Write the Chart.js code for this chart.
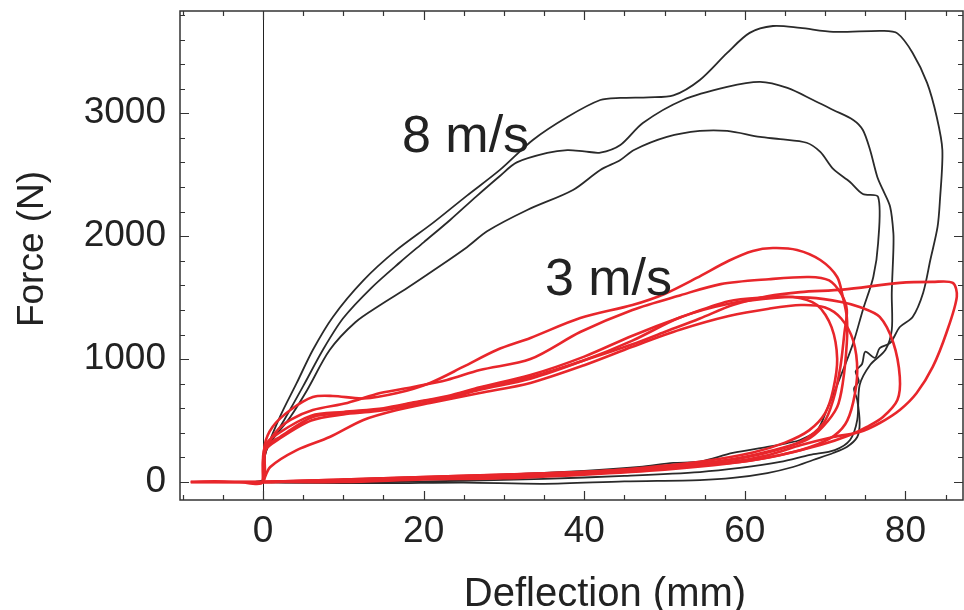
<!DOCTYPE html>
<html>
<head>
<meta charset="utf-8">
<script src="https://cdn.jsdelivr.net/npm/chart.js@4"></script>
<style>
  html, body { margin: 0; padding: 0; background: #fff; }
</style>
</head>
<body>
<canvas id="loops" width="964" height="610"></canvas>
<script>
// deflection (mm), force (N)
const fast1 = [[-1,0],[0,20],[0.3,230],[2.1,529],[4.2,806],[6.2,1074],[8.7,1343],[12.5,1640],[16.5,1880],[21.2,2110],[25.4,2330],[29.5,2539],[33.6,2783],[37.9,2970],[42.0,3108],[44.5,3125],[48.0,3130],[51.1,3145],[54.4,3271],[57.8,3491],[60.6,3654],[63.5,3710],[66.9,3694],[71.0,3662],[77.2,3670],[79.0,3650],[80.9,3491],[82.7,3247],[83.9,2970],[84.6,2701],[84.3,2295],[84.0,2075],[83.1,1806],[82.2,1538],[80.9,1343],[79.3,1261],[78.1,1131],[76.8,1090],[76.2,1010],[75.0,1060],[74.6,960],[73.8,900],[74.2,820],[73.6,760],[74.0,667],[74.3,480],[74.0,366],[72.7,285],[71.0,236],[68.5,179],[66.0,122],[62.8,73],[58.5,33],[54.4,16],[45,5],[35,-15],[25,-5],[15,-10],[5,-5],[0,0]];
const fast2 = [[0,0],[0.3,240],[2.6,500],[5.0,780],[7.5,1080],[10.0,1334],[13.5,1580],[17.1,1790],[20.0,1950],[23.3,2132],[26.5,2320],[29.5,2490],[31.6,2600],[35.4,2677],[37.9,2700],[40.0,2690],[42.0,2680],[44.5,2742],[47.3,2921],[52.3,3108],[57.8,3214],[61.9,3255],[65.3,3206],[68.5,3108],[71.0,3027],[73.5,2946],[74.7,2864],[75.6,2701],[76.5,2482],[77.2,2376],[78.1,2238],[78.5,2026],[78.5,1888],[78.3,1538],[78.3,1237],[77.5,1074],[75.6,952],[74.3,789],[74.0,505],[73.1,342],[71.2,260],[68.1,220],[64.4,163],[59.4,114],[54.4,81],[45,50],[35,25],[25,10],[15,0],[5,-5],[0,0]];
const fast3 = [[0,0],[0.4,260],[3.4,529],[5.5,749],[8.3,1074],[11.5,1300],[14.6,1440],[18.0,1580],[21.2,1720],[25.4,1910],[27.9,2040],[32.9,2213],[38.6,2376],[42.0,2539],[44.5,2620],[46.2,2701],[50.3,2807],[54.4,2856],[57.8,2856],[61.9,2807],[64.4,2790],[67.7,2760],[69.4,2685],[71.0,2547],[73.1,2441],[74.7,2343],[76.6,2319],[76.6,1945],[76.0,1668],[74.7,1400],[73.5,1131],[71.9,855],[70.2,586],[69.0,420],[66.9,342],[65.3,317],[62.8,285],[58.5,236],[54.4,165],[51.1,155],[46.9,122],[40,90],[30,60],[20,40],[10,20],[3,0],[0,0]];

const slow1 = [[-9,0],[-6,5],[-3,0],[0,0],[0.2,300],[1.2,450],[3.4,586],[6.2,692],[8.7,700],[12.5,680],[16.7,724],[20.8,806],[24.9,936],[29.1,1074],[33.3,1172],[39.5,1334],[46,1440],[50,1530],[54,1660],[58,1800],[61,1880],[63.5,1904],[66.5,1888],[69.4,1806],[71.5,1668],[72.2,1506],[72.7,1343],[72.7,1131],[72.2,806],[71.5,610],[69.7,448],[67.7,342],[64,260],[60,200],[55,150],[50,115],[45,90],[40,70],[30,50],[20,30],[10,15],[0,0],[-5,0],[-9,0]];
const slow2 = [[0,0],[0.3,250],[1.5,400],[3.4,505],[6.2,586],[10.5,643],[14.6,724],[18.7,773],[22.9,830],[27.0,911],[33.3,1000],[39.5,1220],[46,1400],[52,1520],[57,1610],[63,1650],[68,1668],[70.5,1640],[72,1530],[72.7,1400],[72.4,1212],[71.9,936],[71.0,667],[69.8,480],[67,330],[63,250],[58,180],[50,120],[40,80],[30,60],[20,40],[10,20],[0,0],[-9,0]];
const slow3 = [[0,0],[0.2,280],[2.1,366],[6.2,529],[10.5,561],[14.6,586],[18.7,643],[22.9,692],[27.0,765],[33.3,854],[40,990],[46,1120],[50,1220],[54.4,1330],[58.5,1440],[62.8,1510],[66.9,1545],[72.2,1565],[79.3,1620],[83.4,1628],[85.9,1620],[86.4,1506],[85.1,1212],[83.4,936],[81.4,724],[79.3,586],[76.8,480],[74.3,407],[71.0,366],[67,300],[63,220],[58,160],[50,110],[40,70],[30,40],[20,30],[10,10],[0,0]];
const slow4 = [[0,0],[0.2,250],[2,350],[6,500],[10,550],[14,575],[19,630],[23,680],[27,750],[33.3,840],[40,990],[46,1150],[52,1340],[58,1450],[64,1500],[68,1500],[72,1465],[74.3,1424],[76.8,1343],[78.5,1131],[79.3,854],[79.0,667],[77.2,529],[75.2,448],[73.1,382],[69.4,300],[64.4,220],[59.4,163],[54.4,138],[45,100],[35,70],[25,50],[15,30],[5,10],[0,0]];
const slow5 = [[0,0],[0.9,122],[4.2,260],[8.3,366],[12.5,505],[16.7,586],[20.8,643],[27.0,724],[33.3,806],[40,950],[46,1100],[52,1240],[58,1350],[63,1410],[67,1440],[70,1420],[72,1330],[73.5,1150],[74,900],[73.5,650],[72.5,470],[70.5,350],[67,260],[63,200],[58,150],[50,100],[40,60],[30,30],[20,20],[10,0],[0,0],[-9,0]];
const slow6 = [[0,0],[0.3,300],[2,400],[6,540],[10,570],[15,600],[19,650],[23,700],[27,770],[33.3,870],[40,1020],[46,1190],[52,1340],[58,1470],[62,1500],[66,1505],[69,1440],[70.8,1260],[71.5,1000],[71,750],[70,560],[68,420],[65,320],[61,240],[55,170],[48,120],[40,80],[30,50],[20,30],[10,10],[0,0]];

const fastCurves = [fast1, fast2, fast3];
const slowCurves = [slow1, slow2, slow3, slow4, slow5, slow6];

const xMajor = [0, 20, 40, 60, 80];
const yMajor = [0, 1000, 2000, 3000];
const xTickStep = 5;
const yTickStep = 200;
const labels = [
    { text: "8 m/s", x: 17.3, y: 2685 },
    { text: "3 m/s", x: 35.1, y: 1522 },
];

const FONT = "Liberation Sans, Arial, Helvetica, sans-serif";
const INK = "#222";

function toPoints(arr) {
    return arr.map(([x, y]) => ({ x, y }));
}

function stepTicks(from, to, step) {
    const out = [];
    for (let v = from; v <= to; v += step) out.push({ value: v });
    return out;
}

const datasets = [];
slowCurves.forEach(c => datasets.push({
    data: toPoints(c),
    showLine: true,
    borderColor: "#e8262b",
    borderWidth: 2.6,
    pointRadius: 0,
    tension: 0.3,
    fill: false,
}));
fastCurves.forEach(c => datasets.push({
    data: toPoints(c),
    showLine: true,
    borderColor: "#2a2a2a",
    borderWidth: 1.8,
    pointRadius: 0,
    tension: 0.3,
    fill: false,
}));

// frame with inward ticks, plus the texts
const framePlugin = {
    id: "frame",
    afterDraw(chart) {
        const { ctx, chartArea: a, scales: { x, y } } = chart;
        ctx.save();
        ctx.strokeStyle = "#333";
        ctx.lineWidth = 1.5;
        ctx.strokeRect(a.left, a.top, a.right - a.left, a.bottom - a.top);

        ctx.lineWidth = 1.2;
        ctx.beginPath();
        x.ticks.forEach(t => {
            const len = xMajor.includes(t.value) ? 9 : 5;
            const px = Math.round(x.getPixelForValue(t.value)) + 0.5;
            ctx.moveTo(px, a.bottom); ctx.lineTo(px, a.bottom - len);
            ctx.moveTo(px, a.top); ctx.lineTo(px, a.top + len);
        });
        y.ticks.forEach(t => {
            const len = yMajor.includes(t.value) ? 9 : 5;
            const py = Math.round(y.getPixelForValue(t.value)) + 0.5;
            ctx.moveTo(a.left, py); ctx.lineTo(a.left + len, py);
            ctx.moveTo(a.right, py); ctx.lineTo(a.right - len, py);
        });
        ctx.stroke();

        ctx.fillStyle = INK;
        ctx.font = "52px " + FONT;
        ctx.textAlign = "left";
        ctx.textBaseline = "alphabetic";
        labels.forEach(l => ctx.fillText(l.text, x.getPixelForValue(l.x), y.getPixelForValue(l.y)));

        ctx.font = "40px " + FONT;
        ctx.textAlign = "center";
        ctx.fillText("Deflection (mm)", 605, 606);

        ctx.translate(43, 249);
        ctx.rotate(-Math.PI / 2);
        ctx.font = "37px " + FONT;
        ctx.fillText("Force (N)", 0, 0);
        ctx.restore();
    }
};

new Chart(document.getElementById("loops").getContext("2d"), {
    type: "scatter",
    data: { datasets },
    options: {
        responsive: false,
        animation: false,
        layout: { padding: { top: 11, right: 1, left: 0, bottom: 0 } },
        plugins: { legend: { display: false }, tooltip: { enabled: false } },
        scales: {
            x: {
                type: "linear",
                min: -10.34,
                max: 87.17,
                afterBuildTicks: s => { s.ticks = stepTicks(-10, 85, xTickStep); },
                afterFit: s => { s.height = 110; s.paddingLeft = 0; s.paddingRight = 0; },
                border: { display: false },
                grid: {
                    drawTicks: false,
                    lineWidth: 1,
                    color: c => (c.tick && c.tick.value === 0 ? "#222" : "rgba(0,0,0,0)"),
                },
                ticks: {
                    autoSkip: false,
                    maxRotation: 0,
                    padding: 10,
                    color: INK,
                    font: { family: FONT, size: 37 },
                    callback: v => (xMajor.includes(v) ? String(v) : ""),
                },
            },
            y: {
                type: "linear",
                min: -146.5,
                max: 3832,
                afterBuildTicks: s => { s.ticks = stepTicks(0, 3800, yTickStep); },
                afterFit: s => { s.width = 180; s.paddingTop = 0; s.paddingBottom = 0; },
                border: { display: false },
                grid: { display: false, drawTicks: false },
                ticks: {
                    autoSkip: false,
                    padding: 14,
                    color: INK,
                    font: { family: FONT, size: 37 },
                    callback: v => (yMajor.includes(v) ? String(v) : ""),
                },
            },
        },
    },
    plugins: [framePlugin],
});
</script>
</body>
</html>
